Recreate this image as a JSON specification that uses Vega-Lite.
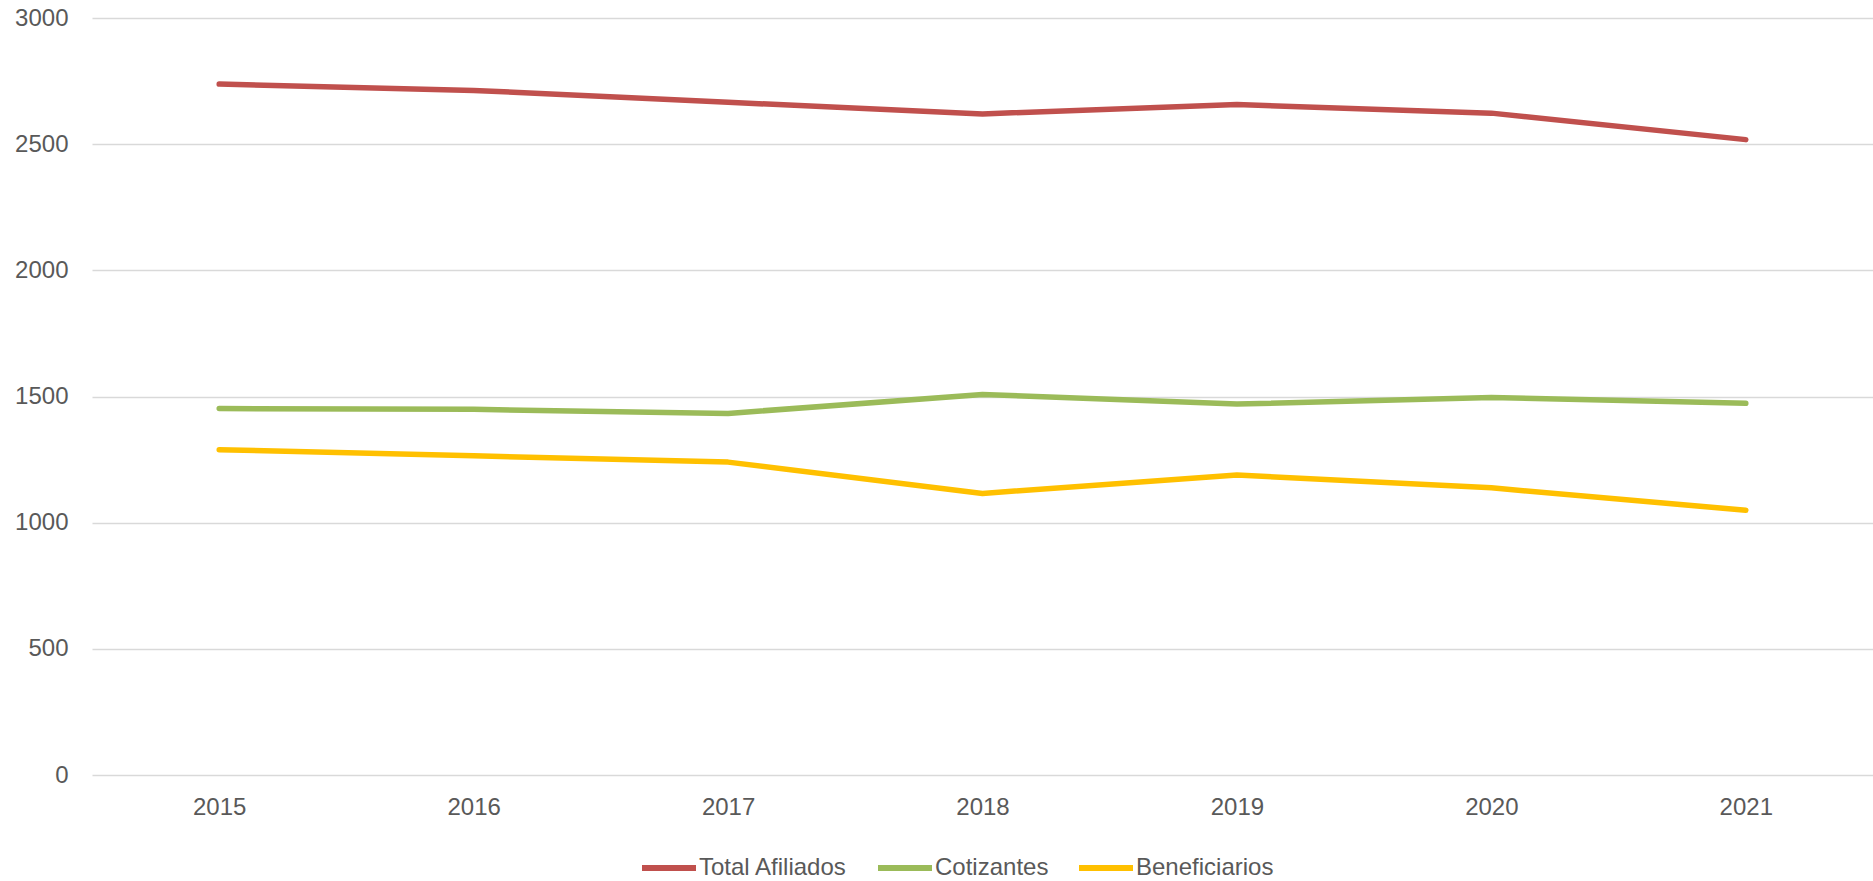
{
  "$schema": "https://vega.github.io/schema/vega-lite/v6.json",
  "width": 1781,
  "height": 757,
  "autosize": {"type": "none"},
  "padding": {"left": 92, "top": 18, "right": 0, "bottom": 106},
  "background": "white",
  "config": {
    "view": {"stroke": null},
    "font": "Liberation Sans",
    "axis": {"labelFont": "Liberation Sans", "labelFontSize": 24, "labelColor": "#595959", "domain": false, "ticks": false, "title": null},
    "legend": {"labelFont": "Liberation Sans", "labelFontSize": 24, "labelColor": "#595959"}
  },
  "data": {
    "values": [
      {"year": "2015", "series": "Total Afiliados", "value": 2738},
      {"year": "2016", "series": "Total Afiliados", "value": 2713},
      {"year": "2017", "series": "Total Afiliados", "value": 2666},
      {"year": "2018", "series": "Total Afiliados", "value": 2620},
      {"year": "2019", "series": "Total Afiliados", "value": 2657},
      {"year": "2020", "series": "Total Afiliados", "value": 2623},
      {"year": "2021", "series": "Total Afiliados", "value": 2518},
      {"year": "2015", "series": "Cotizantes", "value": 1452},
      {"year": "2016", "series": "Cotizantes", "value": 1449},
      {"year": "2017", "series": "Cotizantes", "value": 1433},
      {"year": "2018", "series": "Cotizantes", "value": 1508},
      {"year": "2019", "series": "Cotizantes", "value": 1470},
      {"year": "2020", "series": "Cotizantes", "value": 1496},
      {"year": "2021", "series": "Cotizantes", "value": 1473},
      {"year": "2015", "series": "Beneficiarios", "value": 1289},
      {"year": "2016", "series": "Beneficiarios", "value": 1265},
      {"year": "2017", "series": "Beneficiarios", "value": 1240},
      {"year": "2018", "series": "Beneficiarios", "value": 1116},
      {"year": "2019", "series": "Beneficiarios", "value": 1189},
      {"year": "2020", "series": "Beneficiarios", "value": 1138},
      {"year": "2021", "series": "Beneficiarios", "value": 1049}
    ]
  },
  "mark": {"type": "line", "strokeWidth": 5.5, "strokeCap": "round", "strokeJoin": "round"},
  "encoding": {
    "x": {
      "field": "year", "type": "ordinal",
      "scale": {"paddingInner": 0, "paddingOuter": 0.5},
      "axis": {"labelAngle": 0, "labelPadding": 20, "grid": false}
    },
    "y": {
      "field": "value", "type": "quantitative",
      "scale": {"domain": [0, 3000], "nice": false},
      "axis": {"values": [0, 500, 1000, 1500, 2000, 2500, 3000], "format": "d", "labelPadding": 24, "grid": true, "gridColor": "#d9d9d9", "gridWidth": 1.5}
    },
    "color": {
      "field": "series", "type": "nominal",
      "scale": {"domain": ["Total Afiliados", "Cotizantes", "Beneficiarios"], "range": ["#C0504D", "#9BBB59", "#FFC000"]},
      "sort": ["Total Afiliados", "Cotizantes", "Beneficiarios"],
      "legend": {
        "title": null,
        "orient": "none",
        "direction": "horizontal",
        "legendX": 547,
        "legendY": 820,
        "symbolType": "stroke",
        "symbolSize": 2916,
        "symbolStrokeWidth": 6,
        "labelOffset": 0,
        "columnPadding": 18,
        "padding": 0
      }
    }
  }
}
